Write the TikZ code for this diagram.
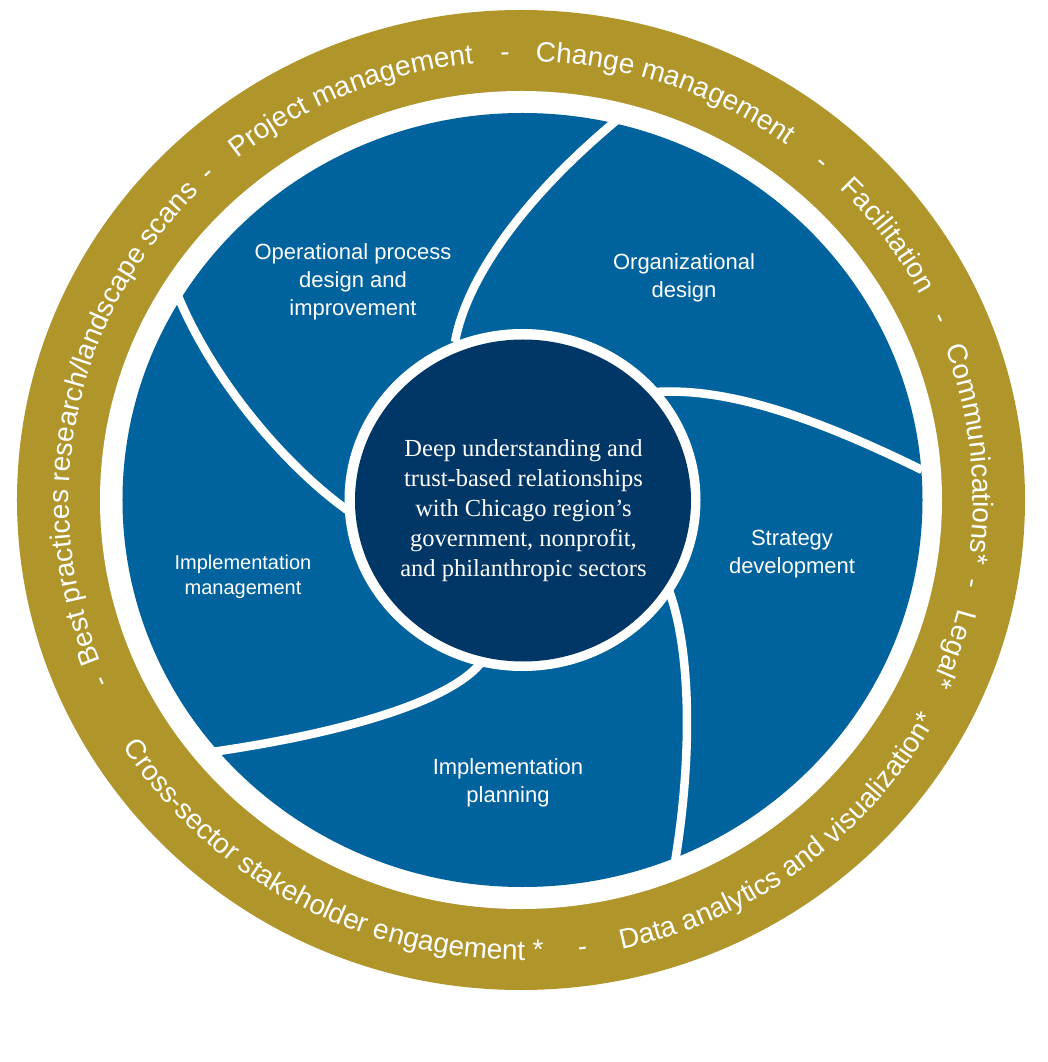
\documentclass[tikz,border=0pt]{standalone}
\usepackage{fontspec}
\setmainfont{Liberation Serif}
\setsansfont{Liberation Sans}
\usetikzlibrary{decorations.text}
\definecolor{ringgold}{RGB}{176,149,43}
\definecolor{segblue}{RGB}{0,99,158}
\definecolor{coredark}{RGB}{0,55,102}
\newcommand{\ringfont}{\sffamily\fontsize{28}{28}\selectfont}
% text on the upper ring: tops outward, read clockwise
\newcommand{\toptext}[3]{%
  \path[decorate, decoration={text along path, text={|\ringfont|#3}, text color=white, text align=center}]
    (#1+#2:452pt and 439pt) arc[start angle=#1+#2, end angle=#1-#2, x radius=452pt, y radius=439pt];}
% text on the lower ring: tops inward, read counter-clockwise
\newcommand{\bottext}[3]{%
  \path[decorate, decoration={text along path, text={|\ringfont|#3}, text color=white, text align=center}]
    (#1-#2:472pt and 460pt) arc[start angle=#1-#2, end angle=#1+#2, x radius=472pt, y radius=460pt];}
\tikzset{
  sepline/.style={draw=white, line width=8.5pt},
  seglabel/.style={text=white, font=\sffamily\fontsize{22}{28}\selectfont, align=center, inner sep=0pt},
}
\begin{document}
\begin{tikzpicture}[x=1pt,y=1pt]
\useasboundingbox (-521,-562) rectangle (527,500);
% rings
\fill[ringgold] (0,0) ellipse[x radius=504pt, y radius=490pt];
\fill[white] (0,0) ellipse[x radius=421pt, y radius=409pt];
\fill[segblue] (1.5,0) ellipse[x radius=400pt, y radius=387pt];
% separators
\draw[sepline] (-66,158) .. controls (-56,215) and (-6,295) .. (96,380);
\draw[sepline] (134,108) .. controls (199,112) and (279,90) .. (401,30);
\draw[sepline] (147,-88) .. controls (171,-150) and (171,-260) .. (154,-362);
\draw[sepline] (-41,-164) .. controls (-76,-205) and (-191,-235) .. (-309,-252);
\draw[sepline] (-171,-12) .. controls (-231,30) and (-306,115) .. (-343,204);
% core
\fill[white] (1.5,0) ellipse[x radius=178pt, y radius=171pt];
\fill[coredark] (2,-0.5) ellipse[x radius=168pt, y radius=161pt];
\node[text=white, align=center, inner sep=0pt, font=\fontsize{24.5}{30}\selectfont] (core) at (2.5,-11)
  {Deep understanding and\\trust-based relationships\\with Chicago region’s\\government, nonprofit,\\and philanthropic sectors};
% segment labels
\node[seglabel] (opdesign) at (-168,218.5) {Operational process\\design and\\improvement};
\node[seglabel] (orgdesign) at (163,222.5) {Organizational\\design};
\node[seglabel] (strategy) at (271,-54.5) {Strategy\\development};
\node[seglabel, font=\sffamily\fontsize{20}{25}\selectfont] (implmgmt) at (-278,-76.5) {Implementation\\management};
\node[seglabel] (implplan) at (-13,-282.5) {Implementation\\planning};
% ring text, upper
\toptext{204}{4}{-}
\toptext{168.6}{42}{Best practices research/landscape scans}
\toptext{133}{4}{-}
\toptext{112.5}{24}{Project management}
\toptext{92}{4}{-}
\toptext{71}{24}{Change management}
\toptext{49}{4}{-}
\toptext{36.5}{14}{Facilitation}
\toptext{24}{4}{-}
\toptext{6}{20}{Communications*}
\toptext{-10.8}{4}{-}
\toptext{-19.5}{9}{Legal*}
% ring text, lower
\bottext{-117.5}{40}{Cross-sector stakeholder engagement *}
\bottext{-82.4}{4}{-}
\bottext{-53}{34}{Data analytics and visualization*}
\end{tikzpicture}
\end{document}
